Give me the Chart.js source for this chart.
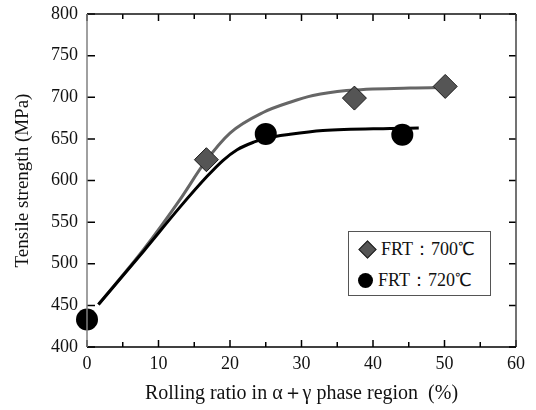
<!DOCTYPE html>
<html>
<head>
<meta charset="utf-8">
<script src="https://cdn.jsdelivr.net/npm/chart.js@4"></script>
<style>
  body { margin: 0; background: #fff; }
  #wrap { position: relative; width: 536px; height: 410px; }
  #legend {
    position: absolute; left: 348px; top: 231px; width: 141px; height: 63px;
    border: 1.5px solid #555; background: #fff;
    font-family: "Liberation Serif", serif; font-size: 18px; color: #111;
  }
  .row { position: absolute; left: 9px; display: flex; align-items: center; }
  .dia { width: 11px; height: 11px; background: #555; border: 1px solid #222; transform: rotate(45deg); margin: 0 7px 0 3px; }
  .dot { width: 15px; height: 15px; background: #000; border-radius: 50%; margin: 0 5px 0 0; }
</style>
</head>
<body>
<div id="wrap">
  <canvas id="chart" width="536" height="410"></canvas>
  <div id="legend">
    <div class="row" style="top:5px"><span class="dia"></span>FRT：700℃</div>
    <div class="row" style="top:36px"><span class="dot"></span>FRT：720℃</div>
  </div>
</div>
<script>
// Measured points
const frt700X = [16.7, 37.4, 50.1];
const frt700Y = [625, 699, 713];
const frt720X = [0, 25, 44.1];
const frt720Y = [433, 656, 655];

// Fitted curves
const fit700X = [1.6, 8, 13, 16.5, 20, 24.7, 28.4, 31.6, 36.3, 45.2, 51.5];
const fit700Y = [451, 518, 577, 622, 657, 682, 694, 702, 708, 711, 712];
const fit720X = [1.6, 8, 13, 16.8, 19, 21, 23.3, 25.2, 28.4, 33, 42.4, 46.4];
const fit720Y = [451, 516, 568, 605, 624, 637, 646, 651, 655.5, 660, 662.5, 663];

const xMin = 0, xMax = 60, xStep = 5, xLabelStep = 10;
const yMin = 400, yMax = 800, yStep = 50;

const pts = (xs, ys) => xs.map((x, i) => ({ x: x, y: ys[i] }));
const serif = '"Liberation Serif", "DejaVu Serif", serif';
Chart.defaults.font.family = serif;
Chart.defaults.color = '#111';

// inward ticks and frame
const framePlugin = {
  id: 'frame',
  afterDraw(chart) {
    const ctx = chart.ctx;
    const a = chart.chartArea;
    const xs = chart.scales.x, ys = chart.scales.y;
    ctx.save();
    ctx.lineWidth = 1.5;
    ctx.strokeStyle = '#000';
    xs.ticks.forEach(t => {
      const px = xs.getPixelForValue(t.value);
      const len = t.value % xLabelStep === 0 ? 7 : 5;
      ctx.beginPath();
      ctx.moveTo(px, a.bottom); ctx.lineTo(px, a.bottom - len);
      ctx.moveTo(px, a.top); ctx.lineTo(px, a.top + len);
      ctx.stroke();
    });
    ys.ticks.forEach(t => {
      const py = ys.getPixelForValue(t.value);
      ctx.beginPath();
      ctx.moveTo(a.left, py); ctx.lineTo(a.left + 8, py);
      ctx.moveTo(a.right, py); ctx.lineTo(a.right - 7, py);
      ctx.stroke();
    });
    const line = (x1, y1, x2, y2, c) => {
      ctx.strokeStyle = c;
      ctx.beginPath(); ctx.moveTo(x1, y1); ctx.lineTo(x2, y2); ctx.stroke();
    };
    line(a.left, a.top, a.right, a.top, '#111');
    line(a.right, a.top, a.right, a.bottom, '#444');
    line(a.left, a.bottom, a.right, a.bottom, '#000');
    line(a.left, a.top, a.left, a.bottom, '#808080');
    ctx.restore();
  }
};

new Chart(document.getElementById('chart'), {
  type: 'scatter',
  data: {
    datasets: [
      {
        label: 'FRT：720℃', data: pts(frt720X, frt720Y),
        pointStyle: 'circle', pointRadius: 11, pointHoverRadius: 11,
        backgroundColor: '#000', borderColor: '#000', borderWidth: 0, clip: false
      },
      {
        label: 'FRT：700℃', data: pts(frt700X, frt700Y),
        pointStyle: 'rectRot', pointRadius: 12, pointHoverRadius: 12,
        backgroundColor: '#555', borderColor: '#1a1a1a', borderWidth: 1, clip: false
      },
      {
        label: 'fit720', data: pts(fit720X, fit720Y), showLine: true,
        pointRadius: 0, borderColor: '#000', borderWidth: 3,
        cubicInterpolationMode: 'monotone', clip: false
      },
      {
        label: 'fit700', data: pts(fit700X, fit700Y), showLine: true,
        pointRadius: 0, borderColor: '#666', borderWidth: 3,
        cubicInterpolationMode: 'monotone', clip: false
      }
    ]
  },
  options: {
    responsive: false,
    animation: false,
    events: [],
    layout: { padding: { top: 14, right: 20, left: 0, bottom: 0 } },
    plugins: { legend: { display: false }, tooltip: { enabled: false } },
    scales: {
      x: {
        min: xMin, max: xMax,
        grid: { display: false, drawTicks: false },
        border: { display: false },
        ticks: {
          stepSize: xStep, autoSkip: false, maxRotation: 0, padding: 6,
          color: '#111', font: { family: serif, size: 18 },
          callback: v => (v % xLabelStep === 0 ? v : '')
        },
        title: {
          display: true, text: 'Rolling ratio in α＋γ phase region  (%)',
          color: '#111', font: { family: serif, size: 20 }, padding: { top: 1, bottom: 4 }
        },
        afterFit: s => { s.height = 63; }
      },
      y: {
        min: yMin, max: yMax,
        grid: { display: false, drawTicks: false },
        border: { display: false },
        ticks: {
          stepSize: yStep, padding: 9,
          color: '#111', font: { family: serif, size: 18 }
        },
        title: {
          display: true, text: 'Tensile strength (MPa)',
          color: '#111', font: { family: serif, size: 19 }, padding: { top: 12, bottom: 4 }
        },
        afterFit: s => { s.width = 87; s.paddingTop = 0; }
      }
    }
  },
  plugins: [framePlugin]
});
</script>
</body>
</html>
